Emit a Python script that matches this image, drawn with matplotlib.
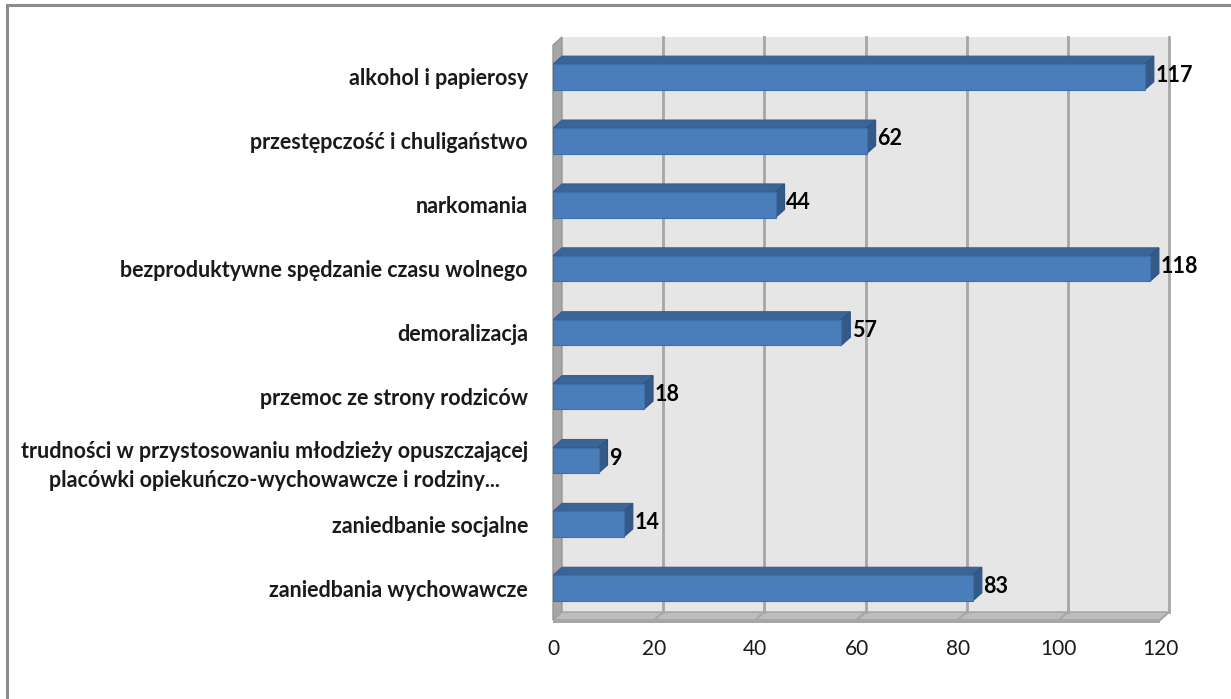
import matplotlib
matplotlib.use("Agg")
import matplotlib.pyplot as plt
from matplotlib.patches import Polygon, Rectangle
from matplotlib.lines import Line2D

# dane z wykresu (od góry do dołu)
categories = [
    "alkohol i papierosy",
    "przestępczość i chuligaństwo",
    "narkomania",
    "bezproduktywne spędzanie czasu wolnego",
    "demoralizacja",
    "przemoc ze strony rodziców",
    "trudności w przystosowaniu młodzieży opuszczającej\nplacówki opiekuńczo-wychowawcze i rodziny...",
    "zaniedbanie socjalne",
    "zaniedbania wychowawcze",
]
values = [117, 62, 44, 118, 57, 18, 9, 14, 83]
xticks = [0, 20, 40, 60, 80, 100, 120]

plt.rcParams['font.family'] = ['Lato', 'DejaVu Sans']

fig = plt.figure(figsize=(12.31, 6.99), dpi=100)
ax = fig.add_axes([553 / 1231, 1 - 620 / 699, 607 / 1231, 575 / 699])
ax.set_xlim(0, 120)
ax.set_ylim(len(categories) - 0.5, -0.5)

# glebokosc 3D w jednostkach danych (~9 px w prawo, ~8 px w gore)
dx = 9 / (607 / 120)
dy = 8 / (575 / len(categories))
ymin, ymax = -0.5, len(categories) - 0.5

# tylna sciana
ax.add_patch(Rectangle((dx, ymin - dy), 120, ymax - ymin, facecolor='#e6e6e6',
                       edgecolor='none', clip_on=False, zorder=0))
# lewa sciana
ax.add_patch(Polygon([(0, ymin), (dx, ymin - dy), (dx, ymax - dy), (0, ymax)],
                     closed=True, facecolor='#a6a6a6', edgecolor='#969696',
                     clip_on=False, zorder=0.5))
# podloga
ax.add_patch(Polygon([(0, ymax), (dx, ymax - dy), (120 + dx, ymax - dy), (120, ymax)],
                     closed=True, facecolor='#bdbdbd', edgecolor='#a0a0a0',
                     clip_on=False, zorder=0.5))
ax.add_patch(Rectangle((0, ymax), 120, 0.04, facecolor='#a6a6a6', edgecolor='none',
                       clip_on=False, zorder=0.5))

# linie siatki
for t in xticks[1:]:
    ax.plot([t + dx, t + dx], [ymin - dy, ymax - dy], color='#a6a6a6', lw=2,
            clip_on=False, zorder=1)
    ax.plot([t + dx, t], [ymax - dy, ymax], color='#a6a6a6', lw=1.5,
            clip_on=False, zorder=1)

# slupki 3D
h = 0.40
for i, v in enumerate(values):
    top = i - h / 2
    bot = i + h / 2
    ax.add_patch(Polygon([(0, top), (dx, top - dy), (v + dx, top - dy), (v, top)],
                         closed=True, facecolor='#3d6496', edgecolor='#385d8a',
                         lw=0.8, zorder=2))
    ax.add_patch(Polygon([(v, top), (v + dx, top - dy), (v + dx, bot - dy), (v, bot)],
                         closed=True, facecolor='#345a88', edgecolor='#2f5282',
                         lw=0.8, zorder=2))
    ax.barh(i, v, height=h, color='#4a7ebb', edgecolor='#3f6ea8', lw=0.8, zorder=3)
    ax.text(v + dx + 0.3, i - 0.03, str(v), va='center', ha='left', fontsize=15.5,
            fontweight='bold', color='black', zorder=4)

ax.set_yticks(range(len(categories)))
ax.set_yticklabels(categories, fontsize=15.5, fontweight='bold', color='#1a1a1a',
                   multialignment='center', linespacing=1.45)
ax.set_xticks(xticks)
ax.set_xticklabels([str(t) for t in xticks], fontsize=15, color='#1a1a1a')
ax.tick_params(axis='y', length=0, pad=18)
ax.tick_params(axis='x', length=0, pad=14)
for s in ax.spines.values():
    s.set_visible(False)
ax.patch.set_visible(False)

# ramka wykresu
fig.add_artist(Line2D([6.5 / 1231, 6.5 / 1231], [0, 1 - 5 / 699], color='#8c8c8c', lw=2.2,
                      transform=fig.transFigure))
fig.add_artist(Line2D([6.5 / 1231, 1], [1 - 5 / 699, 1 - 5 / 699], color='#8c8c8c', lw=2.2,
                      transform=fig.transFigure))

fig.savefig('out.png', dpi=100)
